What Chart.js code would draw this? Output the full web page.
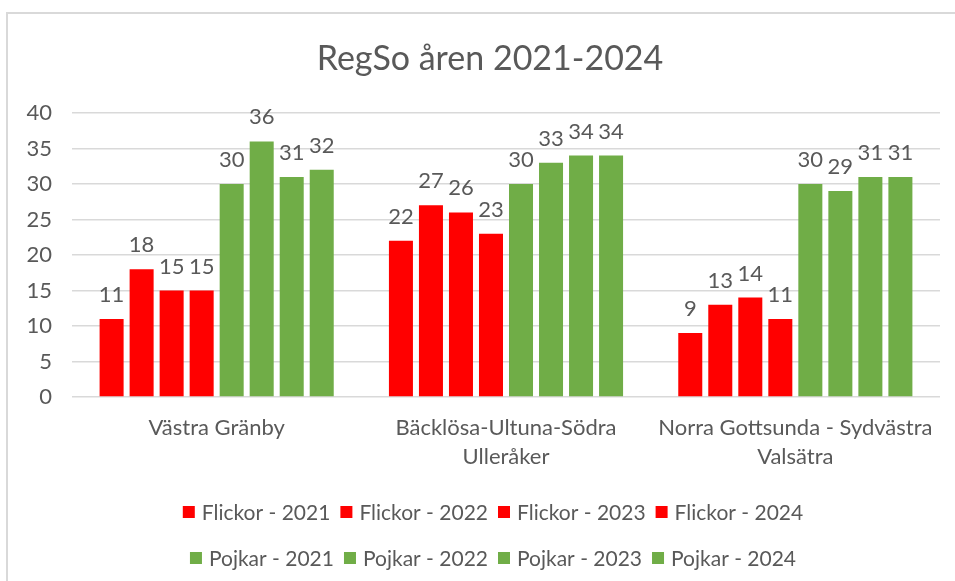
<!DOCTYPE html>
<html>
<head>
<meta charset="utf-8">
<script src="https://cdn.jsdelivr.net/npm/chart.js@4"></script>
<style>
  html, body { margin: 0; padding: 0; background: #fff; }
  #wrap { width: 955px; height: 581px; }
</style>
</head>
<body>
<div id="wrap"><canvas id="grafico" width="955" height="581"></canvas></div>
<script>
// data
const omraden = ["Västra Gränby", ["Bäcklösa-Ultuna-Södra", "Ulleråker"], ["Norra Gottsunda - Sydvästra", "Valsätra"]];
const flickor2021 = [11, 22, 9];
const flickor2022 = [18, 27, 13];
const flickor2023 = [15, 26, 14];
const flickor2024 = [15, 23, 11];
const pojkar2021 = [30, 30, 30];
const pojkar2022 = [36, 33, 29];
const pojkar2023 = [31, 34, 31];
const pojkar2024 = [32, 34, 31];
const titel = "RegSo åren 2021-2024";

const ROD = "#ff0000";
const GRON = "#70ad47";
const TEXT = "#595959";
const FONT = "Lato, 'Open Sans', sans-serif";

// border round the chart + title, like the Excel frame
const ram = {
  id: "ram",
  beforeDraw(chart) {
    const ctx = chart.ctx;
    ctx.save();
    ctx.fillStyle = "#fff";
    ctx.fillRect(0, 0, chart.width, chart.height);
    ctx.strokeStyle = "#d9d9d9";
    ctx.lineWidth = 2;
    ctx.strokeRect(7, 13, chart.width + 10, chart.height + 10);
    ctx.font = "34px " + FONT;
    ctx.fillStyle = TEXT;
    ctx.textAlign = "center";
    ctx.textBaseline = "middle";
    ctx.fillText(titel, 490, 59);
    ctx.restore();
  }
};

// value labels above every bar
const etiketter = {
  id: "etiketter",
  afterDatasetsDraw(chart) {
    const ctx = chart.ctx;
    ctx.save();
    ctx.font = "22px " + FONT;
    ctx.fillStyle = TEXT;
    ctx.textAlign = "center";
    ctx.textBaseline = "bottom";
    chart.data.datasets.forEach((ds, i) => {
      chart.getDatasetMeta(i).data.forEach((bar, j) => {
        ctx.fillText(ds.data[j], bar.x, bar.y - 13);
      });
    });
    ctx.restore();
  }
};

// legend in two rows, four items each
const legend2 = {
  id: "legend2",
  afterDraw(chart) {
    const ctx = chart.ctx;
    const ds = chart.data.datasets;
    ctx.save();
    ctx.font = "21px " + FONT;
    ctx.textBaseline = "middle";
    const rader = [ds.slice(0, 4), ds.slice(4, 8)];
    const radY = [512, 558];
    rader.forEach((rad, r) => {
      const bredder = rad.map(d => 12 + 7 + ctx.measureText(d.label).width);
      const total = bredder.reduce((a, b) => a + b, 0) + 10 * (rad.length - 1);
      let x = 493 - total / 2;
      rad.forEach((d, k) => {
        ctx.fillStyle = d.backgroundColor;
        ctx.fillRect(x, radY[r] - 6, 12, 12);
        ctx.fillStyle = TEXT;
        ctx.fillText(d.label, x + 19, radY[r] + 1);
        x += bredder[k] + 10;
      });
    });
    ctx.restore();
  }
};

const ctx = document.getElementById("grafico").getContext("2d");
new Chart(ctx, {
  type: "bar",
  data: {
    labels: omraden,
    datasets: [
      { label: "Flickor - 2021", data: flickor2021, backgroundColor: ROD },
      { label: "Flickor - 2022", data: flickor2022, backgroundColor: ROD },
      { label: "Flickor - 2023", data: flickor2023, backgroundColor: ROD },
      { label: "Flickor - 2024", data: flickor2024, backgroundColor: ROD },
      { label: "Pojkar - 2021", data: pojkar2021, backgroundColor: GRON },
      { label: "Pojkar - 2022", data: pojkar2022, backgroundColor: GRON },
      { label: "Pojkar - 2023", data: pojkar2023, backgroundColor: GRON },
      { label: "Pojkar - 2024", data: pojkar2024, backgroundColor: GRON }
    ]
  },
  options: {
    responsive: false,
    animation: false,
    categoryPercentage: 0.83,
    barPercentage: 0.8,
    layout: { padding: { left: 0, right: 15, top: 113, bottom: 110 } },
    plugins: {
      legend: { display: false },
      tooltip: { enabled: false },
      title: { display: false }
    },
    scales: {
      x: {
        grid: { display: false, drawTicks: false },
        border: { display: false },
        ticks: {
          color: TEXT,
          font: { family: FONT, size: 22, lineHeight: 1.3 },
          padding: 17,
          maxRotation: 0,
          autoSkip: false
        },
        afterFit: s => { s.height = 74; }
      },
      y: {
        min: 0,
        max: 40,
        grid: { color: "#d9d9d9", lineWidth: 1.5, drawTicks: false },
        border: { display: false },
        ticks: {
          stepSize: 5,
          color: TEXT,
          font: { family: FONT, size: 22 },
          padding: 20
        },
        afterFit: s => { s.width = 72; }
      }
    }
  },
  plugins: [ram, etiketter, legend2]
});
</script>
</body>
</html>
